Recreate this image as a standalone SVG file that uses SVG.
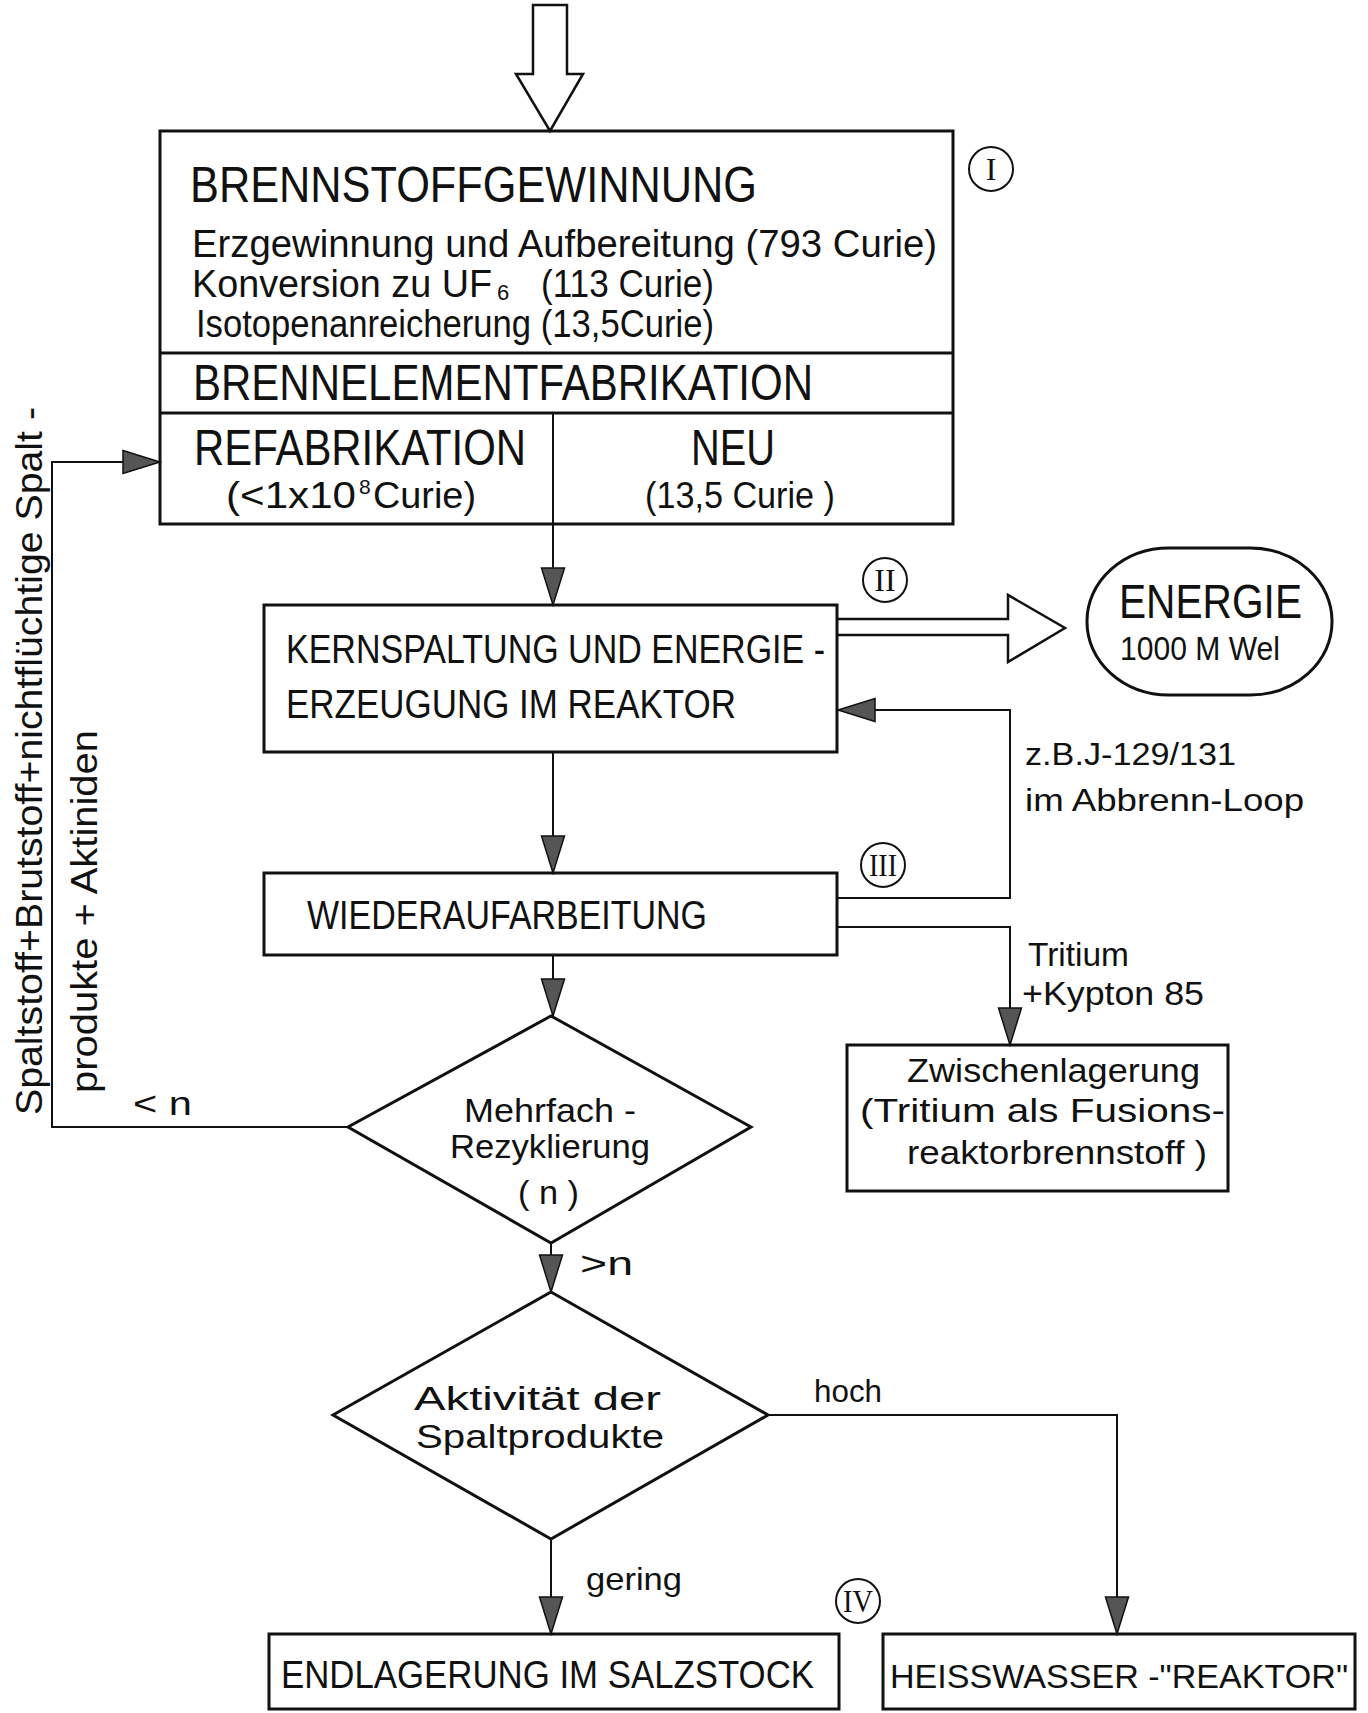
<svg xmlns="http://www.w3.org/2000/svg" width="1368" height="1713" viewBox="0 0 1368 1713">
<style>
  .bx{fill:none;stroke:#111;stroke-width:3}
  .ln{fill:none;stroke:#111;stroke-width:2}
  .ha{fill:#fff;stroke:#111;stroke-width:2.5;stroke-linejoin:miter}
  .t{font-family:"Liberation Sans",Arial,sans-serif;fill:#111}
  .num{font-family:"Liberation Serif","Times New Roman",serif;fill:#111;font-size:32px;text-anchor:middle}
  .cir{fill:none;stroke:#111;stroke-width:2}
</style>
<defs>
  <marker id="ah" markerUnits="userSpaceOnUse" markerWidth="42" markerHeight="28" viewBox="0 -14 42 28" refX="38" refY="0" orient="auto">
    <path d="M1,-11.5 L38,0 L1,11.5 Z" fill="#555" stroke="#111" stroke-width="1.5"/>
  </marker>
</defs>
<rect width="1368" height="1713" fill="#fff"/>

<g id="connectors">
  <polygon class="ha" points="533,5 567,5 567,74 583,74 550,131 516,74 533,74"/>
  <path class="ln" d="M553,524 V605" marker-end="url(#ah)"/>
  <polyline class="ha" points="837,619 1008,619 1008,595 1065,628 1008,662 1008,635 837,635"/>
  <path class="ln" d="M553,752 V873" marker-end="url(#ah)"/>
  <path class="ln" d="M837,898 H1010 V710 H838" marker-end="url(#ah)"/>
  <path class="ln" d="M837,927 H1010 V1045" marker-end="url(#ah)"/>
  <path class="ln" d="M553,955 V1016" marker-end="url(#ah)"/>
  <path class="ln" d="M348,1127 H52 V462 H160" marker-end="url(#ah)"/>
  <path class="ln" d="M551,1243 V1292" marker-end="url(#ah)"/>
  <path class="ln" d="M768,1415 H1117 V1634" marker-end="url(#ah)"/>
  <path class="ln" d="M551,1539 V1634" marker-end="url(#ah)"/>
</g>

<g id="labels">
  <text class="t" transform="translate(42,1115) rotate(-90)" font-size="36" textLength="708" lengthAdjust="spacingAndGlyphs">Spaltstoff+Brutstoff+nichtflüchtige Spalt -</text>
  <text class="t" transform="translate(97,1093) rotate(-90)" font-size="36" textLength="363" lengthAdjust="spacingAndGlyphs">produkte + Aktiniden</text>
  <text class="t" x="133" y="1115" font-size="34" textLength="59" lengthAdjust="spacingAndGlyphs">&lt; n</text>
  <text class="t" x="580" y="1275" font-size="34" textLength="53" lengthAdjust="spacingAndGlyphs">&gt;n</text>
  <text class="t" x="1025" y="765" font-size="32" textLength="211" lengthAdjust="spacingAndGlyphs">z.B.J-129/131</text>
  <text class="t" x="1025" y="811" font-size="32" textLength="279" lengthAdjust="spacingAndGlyphs">im Abbrenn-Loop</text>
  <text class="t" x="1028" y="966" font-size="33" textLength="101" lengthAdjust="spacingAndGlyphs">Tritium</text>
  <text class="t" x="1022" y="1005" font-size="33" textLength="182" lengthAdjust="spacingAndGlyphs">+Kypton 85</text>
  <text class="t" x="814" y="1402" font-size="32" textLength="68" lengthAdjust="spacingAndGlyphs">hoch</text>
  <text class="t" x="586" y="1590" font-size="32" textLength="96" lengthAdjust="spacingAndGlyphs">gering</text>
  <circle class="cir" cx="991" cy="169" r="22"/><text class="num" x="991" y="180">I</text>
  <circle class="cir" cx="885" cy="580" r="22"/><text class="num" x="885" y="591">II</text>
  <circle class="cir" cx="883" cy="865" r="22"/><text class="num" x="883" y="876" textLength="28" lengthAdjust="spacingAndGlyphs">III</text>
  <circle class="cir" cx="858" cy="1601" r="22"/><text class="num" x="858" y="1612" textLength="30" lengthAdjust="spacingAndGlyphs">IV</text>
</g>

<g id="node-brennstoff">
  <rect class="bx" x="160" y="131" width="793" height="393"/>
  <line class="bx" x1="160" y1="353" x2="953" y2="353"/>
  <line class="bx" x1="160" y1="413" x2="953" y2="413"/>
  <line class="ln" x1="553" y1="413" x2="553" y2="524"/>
  <text class="t" x="190" y="202" font-size="50" textLength="567" lengthAdjust="spacingAndGlyphs">BRENNSTOFFGEWINNUNG</text>
  <text class="t" x="192" y="257" font-size="38" textLength="745" lengthAdjust="spacingAndGlyphs">Erzgewinnung und Aufbereitung (793 Curie)</text>
  <text class="t" x="192" y="297" font-size="38" textLength="300" lengthAdjust="spacingAndGlyphs">Konversion zu UF</text>
  <text class="t" x="497" y="300" font-size="22">6</text>
  <text class="t" x="541" y="297" font-size="38" textLength="173" lengthAdjust="spacingAndGlyphs">(113 Curie)</text>
  <text class="t" x="196" y="337" font-size="38" textLength="518" lengthAdjust="spacingAndGlyphs">Isotopenanreicherung (13,5Curie)</text>
  <text class="t" x="193" y="400" font-size="50" textLength="620" lengthAdjust="spacingAndGlyphs">BRENNELEMENTFABRIKATION</text>
  <text class="t" x="194" y="465" font-size="50" textLength="332" lengthAdjust="spacingAndGlyphs">REFABRIKATION</text>
  <text class="t" x="226" y="508" font-size="36" textLength="130" lengthAdjust="spacingAndGlyphs">(&lt;1x10</text>
  <text class="t" x="359" y="494" font-size="21">8</text>
  <text class="t" x="373" y="508" font-size="36" textLength="103" lengthAdjust="spacingAndGlyphs">Curie)</text>
  <text class="t" x="691" y="465" font-size="50" textLength="84" lengthAdjust="spacingAndGlyphs">NEU</text>
  <text class="t" x="645" y="508" font-size="36" textLength="190" lengthAdjust="spacingAndGlyphs">(13,5 Curie )</text>
</g>

<g id="node-kernspaltung">
  <rect class="bx" x="264" y="605" width="573" height="147"/>
  <text class="t" x="286" y="663" font-size="41" textLength="539" lengthAdjust="spacingAndGlyphs">KERNSPALTUNG UND ENERGIE -</text>
  <text class="t" x="286" y="718" font-size="41" textLength="450" lengthAdjust="spacingAndGlyphs">ERZEUGUNG IM REAKTOR</text>
</g>

<g id="node-energie">
  <rect class="bx" x="1087" y="548" width="245" height="147" rx="82" ry="73"/>
  <text class="t" x="1119" y="618" font-size="48" textLength="183" lengthAdjust="spacingAndGlyphs">ENERGIE</text>
  <text class="t" x="1120" y="660" font-size="34" textLength="160" lengthAdjust="spacingAndGlyphs">1000 M Wel</text>
</g>

<g id="node-wiederaufarbeitung">
  <rect class="bx" x="264" y="873" width="573" height="82"/>
  <text class="t" x="307" y="929" font-size="41" textLength="400" lengthAdjust="spacingAndGlyphs">WIEDERAUFARBEITUNG</text>
</g>

<g id="node-zwischenlagerung">
  <rect class="bx" x="847" y="1045" width="381" height="146"/>
  <text class="t" x="907" y="1082" font-size="34" textLength="293" lengthAdjust="spacingAndGlyphs">Zwischenlagerung</text>
  <text class="t" x="860" y="1122" font-size="34" textLength="365" lengthAdjust="spacingAndGlyphs">(Tritium als Fusions-</text>
  <text class="t" x="907" y="1164" font-size="34" textLength="300" lengthAdjust="spacingAndGlyphs">reaktorbrennstoff )</text>
</g>

<g id="node-mehrfach">
  <polygon class="bx" points="551,1016 751,1127 551,1243 348,1127"/>
  <text class="t" x="464" y="1122" font-size="34" textLength="172" lengthAdjust="spacingAndGlyphs">Mehrfach -</text>
  <text class="t" x="450" y="1158" font-size="34" textLength="200" lengthAdjust="spacingAndGlyphs">Rezyklierung</text>
  <text class="t" x="518" y="1204" font-size="34" textLength="61" lengthAdjust="spacingAndGlyphs">( n )</text>
</g>

<g id="node-aktivitaet">
  <polygon class="bx" points="551,1292 768,1415 551,1539 333,1415"/>
  <text class="t" x="414" y="1410" font-size="33" textLength="247" lengthAdjust="spacingAndGlyphs">Aktivität der</text>
  <text class="t" x="416" y="1448" font-size="33" textLength="248" lengthAdjust="spacingAndGlyphs">Spaltprodukte</text>
</g>

<g id="node-endlagerung">
  <rect class="bx" x="269" y="1634" width="570" height="75"/>
  <text class="t" x="281" y="1688" font-size="38" textLength="533" lengthAdjust="spacingAndGlyphs">ENDLAGERUNG IM SALZSTOCK</text>
</g>

<g id="node-heisswasser">
  <rect class="bx" x="883" y="1634" width="472" height="75"/>
  <text class="t" x="890" y="1688" font-size="34" textLength="458" lengthAdjust="spacingAndGlyphs">HEISSWASSER -"REAKTOR"</text>
</g>
</svg>
